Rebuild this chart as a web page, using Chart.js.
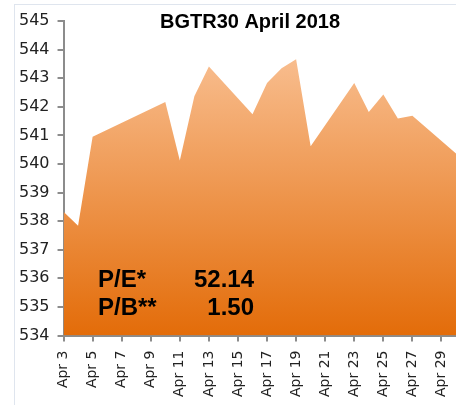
<!DOCTYPE html>
<html>
<head>
<meta charset="utf-8">
<script src="https://cdn.jsdelivr.net/npm/chart.js@4"></script>
<style>
  html, body { margin: 0; padding: 0; background: #fff; }
  body { width: 456px; height: 405px; position: relative; overflow: hidden; }
  #frame { position: absolute; left: 14px; top: 4px; width: 500px; height: 500px; border: 1px solid #dfe5ee; }
  #wrap { position: absolute; left: 0; top: 0; width: 456px; height: 405px; }
</style>
</head>
<body>
<div id="frame"></div>
<div id="wrap"><canvas id="chart" width="456" height="405"></canvas></div>
<script>
// trading days of April 2018 and index close
const tradingDays = [3, 4, 5, 10, 11, 12, 13, 16, 17, 18, 19, 20, 23, 24, 25, 26, 27, 30];
const closeValues = [538.33, 537.84, 540.95, 542.17, 540.12, 542.37, 543.41, 541.74, 542.83,
  543.35, 543.66, 540.62, 542.83, 541.82, 542.43, 541.59, 541.69, 540.37];
const tickDays = [3, 5, 7, 9, 11, 13, 15, 17, 19, 21, 23, 25, 27, 29];
const monthLabel = 'Apr';
const chartTitle = 'BGTR30 April 2018';
const ratioLabels = ['P/E*', 'P/B**'];
const ratioValues = ['52.14', '1.50'];

const textPlugin = {
  id: 'textPlugin',
  afterDraw(chart) {
    const c = chart.ctx;
    c.save();
    c.fillStyle = '#000';
    c.textBaseline = 'alphabetic';
    c.font = 'bold 20px "Liberation Sans", Arial, sans-serif';
    c.textAlign = 'center';
    c.fillText(chartTitle, 250, 28);
    c.font = 'bold 24px "Liberation Sans", Arial, sans-serif';
    ratioLabels.forEach((lab, i) => {
      c.textAlign = 'left';
      c.fillText(lab, 98, 287 + i * 28);
      c.textAlign = 'right';
      c.fillText(ratioValues[i], 254, 287 + i * 28);
    });
    c.restore();
  }
};

new Chart(document.getElementById('chart').getContext('2d'), {
  type: 'line',
  data: {
    datasets: [{
      label: chartTitle,
      data: tradingDays.map((d, i) => ({ x: d, y: closeValues[i] })),
      borderWidth: 0,
      pointRadius: 0,
      tension: 0,
      fill: 'start',
      backgroundColor: (ctx) => {
        const area = ctx.chart.chartArea;
        if (!area) return '#f0a060';
        const g = ctx.chart.ctx.createLinearGradient(0, area.top, 0, area.bottom);
        g.addColorStop(0, '#fbc8a0');
        g.addColorStop(1, '#e36c09');
        return g;
      }
    }]
  },
  options: {
    responsive: false,
    animation: false,
    layout: { padding: { left: 11, top: 21, right: 0, bottom: -1 } },
    plugins: {
      legend: { display: false },
      tooltip: { enabled: false }
    },
    scales: {
      x: {
        type: 'linear',
        min: 3,
        max: 30,
        afterBuildTicks: (scale) => { scale.ticks = tickDays.map((v) => ({ value: v })); },
        afterFit: (scale) => { scale.paddingRight = 0; },
        ticks: {
          autoSkip: false,
          minRotation: 90,
          maxRotation: 90,
          padding: 9,
          color: '#222',
          font: { family: '"DejaVu Sans"', size: 14 },
          callback: (v) => monthLabel + ' ' + v
        },
        grid: { drawOnChartArea: false, tickLength: 6, color: '#8c8c8c', lineWidth: 2 },
        border: { color: '#8c8c8c', width: 2 }
      },
      y: {
        min: 534,
        max: 545,
        ticks: {
          stepSize: 1,
          padding: 8,
          color: '#222',
          font: { family: '"DejaVu Sans"', size: 16 }
        },
        grid: { drawOnChartArea: false, tickLength: 6, color: '#8c8c8c', lineWidth: 2 },
        border: { color: '#8c8c8c', width: 2 }
      }
    }
  },
  plugins: [textPlugin]
});
</script>
</body>
</html>
